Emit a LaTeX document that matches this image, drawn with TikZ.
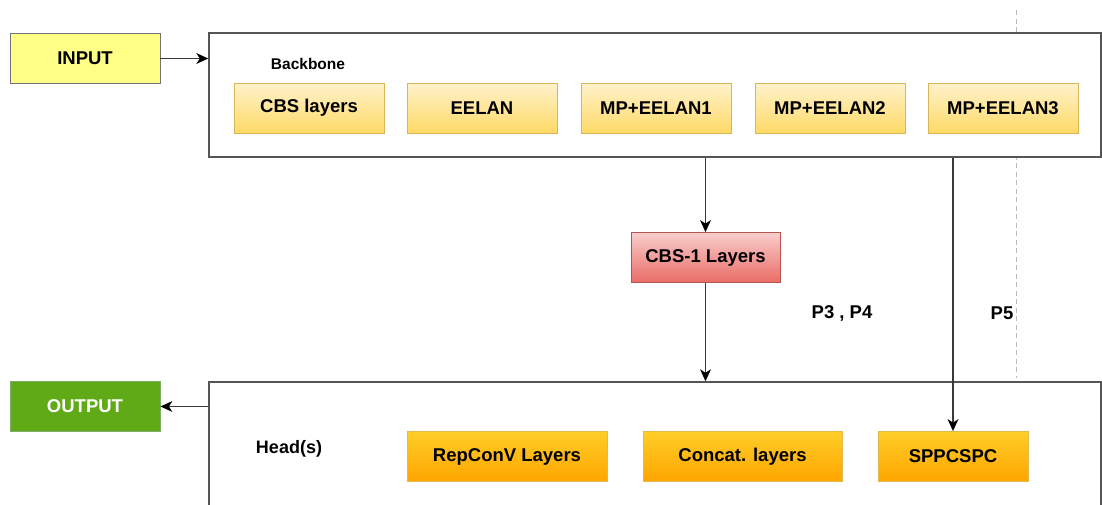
\documentclass[tikz,border=0pt]{standalone}
\usepackage{fontspec}
\setmainfont{Liberation Sans}
\usetikzlibrary{arrows.meta}

\definecolor{ylTop}{HTML}{FFF2CC}
\definecolor{ylBot}{HTML}{FFD966}
\definecolor{ylLine}{HTML}{D6B656}
\definecolor{rdTop}{HTML}{F8CECC}
\definecolor{rdBot}{HTML}{EA6B66}
\definecolor{rdLine}{HTML}{B85450}
\definecolor{orTop}{HTML}{FFCD28}
\definecolor{orBot}{HTML}{FFA500}
\definecolor{orLine}{HTML}{D79B00}
\definecolor{inFill}{HTML}{FFFF88}
\definecolor{inLine}{HTML}{36393D}
\definecolor{outFill}{HTML}{60A917}
\definecolor{outLine}{HTML}{2D7600}
\definecolor{frameLine}{HTML}{555555}
\definecolor{wireLine}{HTML}{3A3A3A}
\definecolor{guideLine}{HTML}{BBBBBB}

\tikzset{
  lbl/.style={font=\fontsize{18.5}{22}\selectfont\bfseries},
  block/.style={lbl, inner sep=0pt, minimum height=50pt, line width=0.9pt},
  ybox/.style={block, minimum width=150pt, draw=ylLine, top color=ylTop, bottom color=ylBot},
  rbox/.style={block, minimum width=150pt, draw=rdLine, top color=rdTop, bottom color=rdBot},
  obox/.style={block, draw=orLine!70, top color=orTop, bottom color=orBot},
  inbox/.style={block, minimum width=150pt, draw=inLine!70, fill=inFill},
  outbox/.style={block, minimum width=150pt, draw=outLine!60, fill=outFill, text=white},
  frame/.style={draw=frameLine, line width=1.5pt, fill=white, inner sep=0pt},
  wire/.style={draw=wireLine, line width=1.5pt,
    -{Stealth[length=12pt, width=11pt, inset=3.5pt, fill=black, line width=0pt]}},
  tag/.style={lbl, inner sep=0pt},
  guide/.style={draw=guideLine, line width=1pt, dash pattern=on 5pt off 3.5pt},
}

\begin{document}
\begin{tikzpicture}[x=1pt, y=-1pt]
  \useasboundingbox (0,0) rectangle (1102,504);

  % vertical guide behind the frames
  \coordinate (gTop) at (1016,10);
  \coordinate (gBot) at (1016,378);
  \draw[guide] (gTop) -- (gBot);

  % frames
  \node[frame, minimum width=892pt, minimum height=124pt] (backbone) at (655,95) {};
  \node[frame, minimum width=892pt, minimum height=140pt] (head) at (655,452) {};

  % input / output
  \node[inbox] (input) at (85,58.5) {INPUT};
  \node[outbox] (output) at (85,406.5) {OUTPUT};

  % backbone stages
  \node[tag, font=\fontsize{15.5}{18}\selectfont\bfseries] (bbLabel) at (308,64) {Backbone};
  \node[ybox] (cbs)   at (309,108) {CBS layers};
  \node[ybox] (eelan) at (482,108) {EELAN};
  \node[ybox] (mp1)   at (656,108) {MP+EELAN1};
  \node[ybox] (mp2)   at (830,108) {MP+EELAN2};
  \node[ybox] (mp3)   at (1003,108) {MP+EELAN3};

  % neck
  \node[rbox, minimum width=149pt] (cbsone) at (705.5,257.5) {CBS-1 Layers};
  \node[tag] (pLow)  at (842,313) {P3 , P4};
  \node[tag] (pHigh) at (1002,313) {P5};

  % head stages
  \node[tag, font=\fontsize{18}{22}\selectfont\bfseries] (hdLabel) at (289,449) {Head(s)};
  \node[obox, minimum width=200pt] (rep)    at (507,456.5) {RepConV Layers};
  \node[obox, minimum width=199pt] (concat) at (742.5,456.5) {Concat. layers};
  \node[obox, minimum width=150pt] (spp)    at (953,456.5) {SPPCSPC};

  % connectors
  \draw[wire] (input.east) -- (input.east -| backbone.west);
  \draw[wire] (cbsone.north |- backbone.south) -- (cbsone.north);
  \draw[wire] (cbsone.south) -- (cbsone.south |- head.north);
  \draw[wire] (spp.north |- backbone.south) -- (spp.north);
  \draw[wire] (head.west |- output.east) -- (output.east);
\end{tikzpicture}
\end{document}
